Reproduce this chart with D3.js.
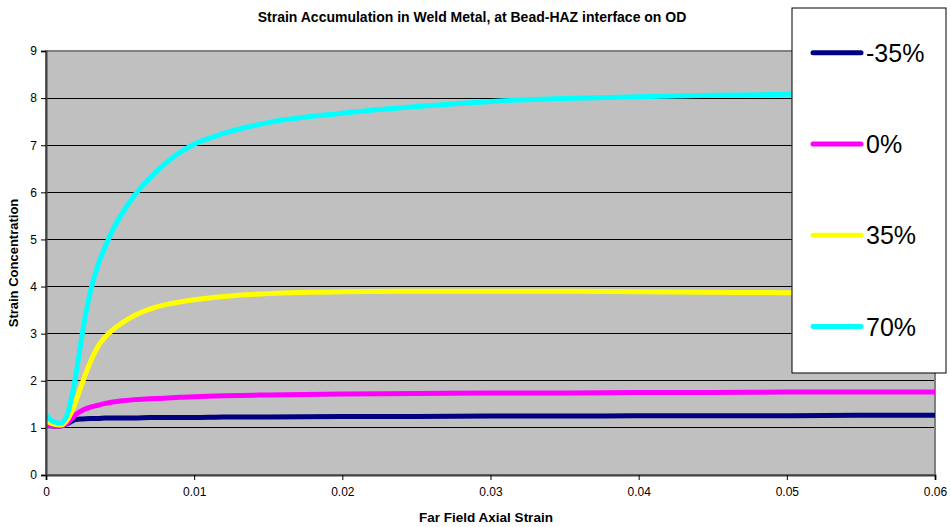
<!DOCTYPE html>
<html><head><meta charset="utf-8">
<script src="https://cdn.jsdelivr.net/npm/d3@7"></script>
<style>body{margin:0;background:#fff;} text{font-family:"Liberation Sans",Arial,sans-serif;}</style>
</head><body><svg id="c" width="951" height="527"></svg>
<script>
const xVals   = [0,0.0005,0.001,0.0015,0.002,0.0025,0.003,0.0035,0.004,0.0045,0.005,0.006,0.007,0.008,0.009,0.010,0.012,0.015,0.020,0.025,0.030,0.035,0.040,0.045,0.050,0.055,0.060];
const sNeg35  = [1.05,1.04,1.04,1.10,1.18,1.19,1.20,1.20,1.21,1.21,1.21,1.21,1.22,1.22,1.22,1.22,1.23,1.23,1.24,1.24,1.25,1.25,1.26,1.26,1.26,1.27,1.27];
const s0      = [1.05,1.04,1.04,1.12,1.28,1.38,1.44,1.48,1.52,1.55,1.57,1.60,1.62,1.63,1.65,1.66,1.68,1.70,1.72,1.73,1.74,1.74,1.75,1.75,1.76,1.76,1.76];
const s35     = [1.15,1.08,1.06,1.20,1.55,2.00,2.40,2.72,2.93,3.08,3.20,3.39,3.52,3.61,3.67,3.72,3.79,3.85,3.89,3.90,3.90,3.90,3.89,3.88,3.87,3.87,3.86];
const s70     = [1.28,1.13,1.10,1.35,2.10,3.10,3.90,4.45,4.85,5.20,5.48,5.95,6.30,6.60,6.84,7.02,7.25,7.48,7.68,7.82,7.93,7.99,8.03,8.06,8.08,8.09,8.10];
const seriesNames = ["-35%","0%","35%","70%"];
const seriesColors = ["#000080","#FF00FF","#FFFF00","#00FFFF"];
const seriesData = [sNeg35,s0,s35,s70];
const xTicks = [0,0.01,0.02,0.03,0.04,0.05,0.06];
const yTicks = [0,1,2,3,4,5,6,7,8,9];

const svg = d3.select("#c");
const L=46,R=935,T=51,B=475;
const x = d3.scaleLinear().domain([0,0.06]).range([L,R]);
const y = d3.scaleLinear().domain([0,9]).range([B,T]);

svg.append("rect").attr("x",L).attr("y",T).attr("width",R-L).attr("height",B-T).attr("fill","#C0C0C0");
svg.append("g").selectAll("line").data(yTicks.filter(d=>d>0&&d<9)).join("line")
  .attr("x1",L).attr("x2",R).attr("y1",d=>y(d)).attr("y2",d=>y(d)).attr("stroke","#000").attr("stroke-width",1).attr("shape-rendering","crispEdges");
svg.append("rect").attr("x",L).attr("y",T).attr("width",R-L).attr("height",B-T).attr("fill","none").attr("stroke","#808080").attr("stroke-width",2);

svg.append("defs").append("clipPath").attr("id","clip").append("rect").attr("x",L).attr("y",T).attr("width",R-L).attr("height",B-T);
const line = d3.line().x((d,i)=>x(xVals[i])).y(d=>y(d)).curve(d3.curveMonotoneX);
const lg = svg.append("g").attr("clip-path","url(#clip)");
seriesData.forEach((s,k)=>{
  lg.append("path").attr("d",line(s)).attr("fill","none").attr("stroke",seriesColors[k]).attr("stroke-width",5).attr("stroke-linejoin","round");
});

const ya = svg.append("g").attr("transform",`translate(${L},0)`).call(d3.axisLeft(y).tickValues(yTicks).tickSize(5).tickPadding(4).tickFormat(d3.format("d")));
const xa = svg.append("g").attr("transform",`translate(0,${B})`).call(d3.axisBottom(x).tickValues(xTicks).tickSize(5).tickPadding(7).tickFormat(d=>d===0?"0":d3.format(".2f")(d)));
[ya,xa].forEach(a=>{
  a.select(".domain").attr("stroke","#404040").attr("stroke-width",2);
  a.selectAll(".tick line").attr("stroke","#000");
  a.selectAll(".tick text").attr("font-size",12).attr("fill","#000").attr("font-family","Liberation Sans, Arial, sans-serif");
});

svg.append("text").attr("x",472).attr("y",22).attr("text-anchor","middle").attr("font-size",14).attr("font-weight","bold").text("Strain Accumulation in Weld Metal, at Bead-HAZ interface on OD");
svg.append("text").attr("x",486).attr("y",522).attr("text-anchor","middle").attr("font-size",13.5).attr("font-weight","bold").text("Far Field Axial Strain");
svg.append("text").attr("transform","translate(18,263) rotate(-90)").attr("text-anchor","middle").attr("font-size",13).attr("font-weight","bold").text("Strain Concentration");

const leg = svg.append("g");
leg.append("rect").attr("x",792).attr("y",8).attr("width",154).attr("height",365).attr("fill","#fff").attr("stroke","#000").attr("stroke-width",1);
seriesNames.forEach((n,i)=>{
  const yy = 52.7 + i*91.3;
  leg.append("line").attr("x1",813).attr("x2",861).attr("y1",yy).attr("y2",yy).attr("stroke",seriesColors[i]).attr("stroke-width",5).attr("stroke-linecap","round");
  leg.append("text").attr("x",866).attr("y",yy+9).attr("font-size",25).attr("fill","#000").text(n);
});
</script></body></html>
